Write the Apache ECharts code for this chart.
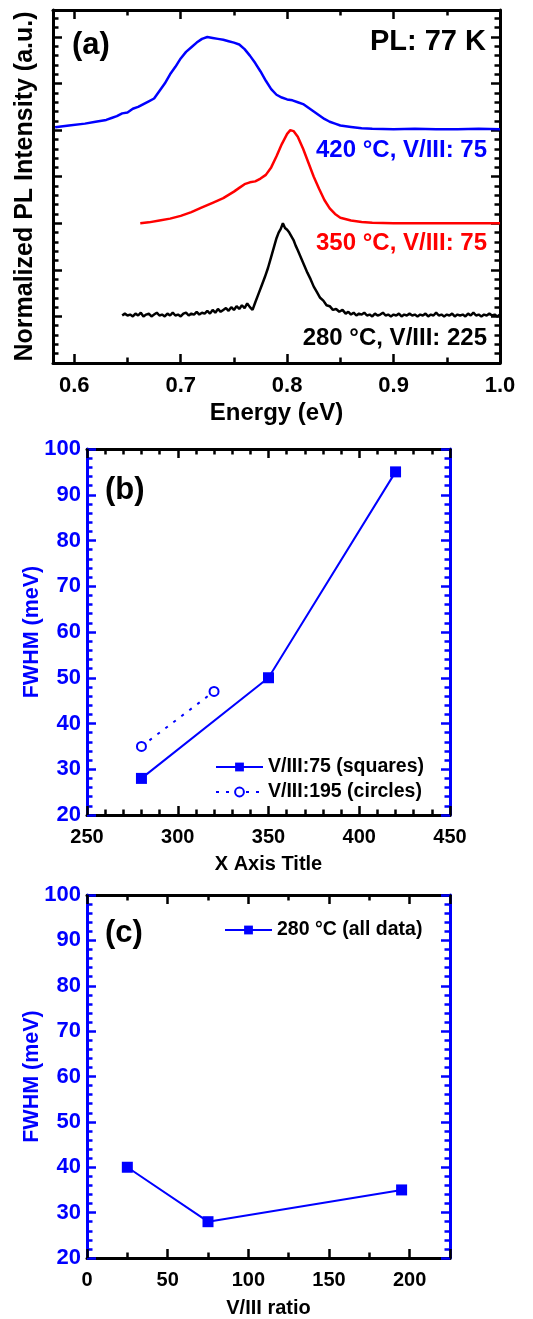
<!DOCTYPE html>
<html><head><meta charset="utf-8">
<script src="https://cdn.jsdelivr.net/npm/echarts@6/dist/echarts.min.js"></script>
<style>html,body{margin:0;padding:0;background:#fff}#c{width:533px;height:1319px}</style>
</head><body><div id="c"></div>
<script>
// ---------- Panel (a): normalized PL spectra ----------
const blueE = [0.582,0.595,0.610,0.620,0.630,0.635,0.640,0.645,0.650,0.655,0.660,0.665,0.670,0.675,0.680,0.685,0.690,0.695,0.700,0.705,0.710,0.715,0.720,0.725,0.730,0.735,0.740,0.745,0.750,0.755,0.760,0.765,0.770,0.775,0.780,0.785,0.790,0.795,0.800,0.805,0.810,0.815,0.820,0.825,0.830,0.835,0.840,0.845,0.850,0.860,0.870,0.880,0.900,0.920,0.940,0.960,0.980,1.000];
const blueI = [0.03,0.05,0.07,0.09,0.11,0.13,0.15,0.18,0.19,0.23,0.25,0.28,0.31,0.34,0.42,0.50,0.60,0.68,0.77,0.84,0.89,0.94,0.98,1.00,0.99,0.98,0.97,0.955,0.94,0.92,0.87,0.80,0.72,0.63,0.53,0.44,0.38,0.35,0.33,0.32,0.30,0.28,0.24,0.20,0.16,0.12,0.09,0.07,0.05,0.035,0.02,0.015,0.01,0.015,0.01,0.01,0.015,0.01];
const redE = [0.662,0.670,0.680,0.690,0.700,0.710,0.720,0.730,0.740,0.750,0.755,0.760,0.765,0.770,0.775,0.780,0.785,0.790,0.795,0.800,0.803,0.806,0.810,0.815,0.820,0.825,0.830,0.835,0.840,0.845,0.850,0.860,0.870,0.880,0.900,0.950,1.000];
const redI = [0.00,0.01,0.03,0.05,0.08,0.12,0.17,0.22,0.27,0.34,0.38,0.42,0.44,0.45,0.48,0.52,0.60,0.72,0.85,0.96,1.00,0.99,0.93,0.80,0.65,0.50,0.37,0.25,0.16,0.10,0.06,0.03,0.015,0.005,0.0,0.0,0.0];
const blackE = [0.6450,0.6475,0.6500,0.6525,0.6550,0.6575,0.6600,0.6625,0.6650,0.6675,0.6700,0.6725,0.6750,0.6775,0.6800,0.6825,0.6850,0.6875,0.6900,0.6925,0.6950,0.6975,0.7000,0.7025,0.7050,0.7075,0.7100,0.7125,0.7150,0.7175,0.7200,0.7225,0.7250,0.7275,0.7300,0.7325,0.7350,0.7375,0.7400,0.7425,0.7450,0.7475,0.7500,0.7525,0.7550,0.7575,0.7600,0.7625,0.7650,0.7675,0.7700,
  0.773,0.776,0.779,0.782,0.785,0.788,0.790,0.792,0.794,0.796,0.798,0.800,0.802,0.804,0.806,0.808,0.810,0.813,0.816,0.819,0.822,0.825,0.828,0.831,0.834,0.837,0.840,0.843,0.846,0.849,0.852,0.855,
  0.8575,0.8600,0.8625,0.8650,0.8675,0.8700,0.8725,0.8750,0.8775,0.8800,0.8825,0.8850,0.8875,0.8900,0.8925,0.8950,0.8975,0.9000,0.9025,0.9050,0.9075,0.9100,0.9125,0.9150,0.9175,0.9200,0.9225,0.9250,0.9275,0.9300,0.9325,0.9350,0.9375,0.9400,0.9425,0.9450,0.9475,0.9500,0.9525,0.9550,0.9575,0.9600,0.9625,0.9650,0.9675,0.9700,0.9725,0.9750,0.9775,0.9800,0.9825,0.9850,0.9875,0.9900,0.9925,0.9950,0.9975,1.0000];
const blackI = [0.01,0.03,0.01,0.02,0.00,0.03,0.01,0.04,0.00,0.02,0.03,0.00,0.02,0.04,0.01,0.02,0.00,0.03,0.01,0.04,0.01,0.02,0.00,0.03,0.04,0.01,0.03,0.02,0.05,0.02,0.04,0.03,0.06,0.03,0.07,0.04,0.08,0.05,0.07,0.09,0.06,0.10,0.07,0.11,0.08,0.12,0.09,0.14,0.10,0.07,0.15,
  0.24,0.33,0.42,0.52,0.64,0.76,0.84,0.90,0.94,1.00,0.95,0.93,0.90,0.86,0.82,0.76,0.71,0.63,0.55,0.47,0.40,0.32,0.26,0.20,0.17,0.12,0.11,0.07,0.08,0.05,0.07,0.03,
  0.05,0.02,0.04,0.01,0.03,0.02,0.04,0.01,0.02,0.00,0.03,0.01,0.02,0.04,0.01,0.02,0.00,0.02,0.01,0.03,0.00,0.02,0.01,0.03,0.01,0.02,0.00,0.02,0.01,0.03,0.00,0.02,0.01,0.04,0.01,0.02,0.00,0.02,0.01,0.03,0.00,0.02,0.01,0.02,0.00,0.03,0.01,0.04,0.01,0.02,0.00,0.02,0.01,0.03,0.01,0.02,0.00,0.02];
const specOffsets = [5, 3, 1];      // blue, red, black vertical offsets
const specScale = 2;                 // normalized peak height in axis units
const specLabels = ['420 \u00B0C, V/III: 75', '350 \u00B0C, V/III: 75', '280 \u00B0C, V/III: 225'];

// ---------- Panel (b): FWHM vs temperature ----------
const tempSquares = [280, 350, 420];
const fwhmSquares = [28, 50, 95];
const tempCircles = [280, 320];
const fwhmCircles = [35, 47];

// ---------- Panel (c): FWHM vs V/III ratio ----------
const ratioC = [25, 75, 195];
const fwhmC = [40, 28, 35];

const BLUE = '#0000FF', RED = '#FF0000', BLACK = '#000000';
const FONT = "'Liberation Sans', Arial, sans-serif";
const MAJ = 9, MIN = 5.5, TW = 2.5;

function zip(xs, ys, off, sc) { return xs.map((x, i) => [x, off + sc * ys[i]]); }
function zip2(xs, ys) { return xs.map((x, i) => [x, ys[i]]); }
function minor(n, color) { return { show: true, splitNumber: n, length: MIN, lineStyle: { color: color, width: TW } }; }

function frameAxis(grid, pos, color, o) {
  return Object.assign({
    type: 'value', gridIndex: grid, position: pos,
    axisLine: { show: true, onZero: false, lineStyle: { color: color, width: 3 } },
    axisTick: { show: true, inside: true, length: MAJ, lineStyle: { color: color, width: TW } },
    axisLabel: { show: false },
    splitLine: { show: false },
    nameMoveOverlap: false
  }, o);
}
const tickFont = { fontFamily: FONT, fontWeight: 'bold', fontSize: 22 };
const tickFontS = { fontFamily: FONT, fontWeight: 'bold', fontSize: 20 };
function nameFont(size, color) { return { fontFamily: FONT, fontWeight: 'bold', fontSize: size, color: color }; }

const aX = { min: 0.58, max: 1.0, minInterval: 0.1, maxInterval: 0.1, minorTick: minor(2, BLACK) };
const aY = { min: 0, max: 7.58, interval: 1, minorTick: minor(5, BLACK) };
const bX = { min: 250, max: 450, interval: 50, minorTick: minor(5, BLACK) };
const bcY = { min: 20, max: 100, interval: 10, minorTick: minor(5, BLUE) };
const cX = { min: 0, max: 225, interval: 50, minorTick: minor(2, BLACK) };

const xAxes = [
  frameAxis(0, 'bottom', BLACK, Object.assign({}, aX, {
    axisLabel: Object.assign({ show: true, color: BLACK, margin: 12, showMinLabel: false, formatter: v => v.toFixed(1) }, tickFont),
    name: 'Energy (eV)', nameLocation: 'middle', nameGap: 38, nameTextStyle: nameFont(24, BLACK)
  })),
  frameAxis(0, 'top', BLACK, aX),
  frameAxis(1, 'bottom', BLACK, Object.assign({}, bX, {
    axisLabel: Object.assign({ show: true, color: BLACK, margin: 12 }, tickFontS),
    name: 'X Axis Title', nameLocation: 'middle', nameGap: 39, nameTextStyle: nameFont(20, BLACK)
  })),
  frameAxis(1, 'top', BLACK, bX),
  frameAxis(2, 'bottom', BLACK, Object.assign({}, cX, {
    axisLabel: Object.assign({ show: true, color: BLACK, margin: 12, showMaxLabel: false }, tickFontS),
    name: 'V/III ratio', nameLocation: 'middle', nameGap: 40, nameTextStyle: nameFont(20, BLACK)
  })),
  frameAxis(2, 'top', BLACK, cX)
];
const yAxes = [
  frameAxis(0, 'left', BLACK, Object.assign({}, aY, {
    name: 'Normalized PL Intensity (a.u.)', nameLocation: 'middle', nameGap: 15,
    nameTextStyle: nameFont(25, BLACK)
  })),
  frameAxis(0, 'right', BLACK, aY),
  frameAxis(1, 'left', BLUE, Object.assign({}, bcY, {
    axisLabel: Object.assign({ show: true, color: BLUE, margin: 6 }, tickFont),
    name: 'FWHM (meV)', nameLocation: 'middle', nameGap: 44, nameTextStyle: nameFont(21.5, BLUE)
  })),
  frameAxis(1, 'right', BLUE, bcY),
  frameAxis(2, 'left', BLUE, Object.assign({}, bcY, {
    axisLabel: Object.assign({ show: true, color: BLUE, margin: 6 }, tickFont),
    name: 'FWHM (meV)', nameLocation: 'middle', nameGap: 44, nameTextStyle: nameFont(21.5, BLUE)
  })),
  frameAxis(2, 'right', BLUE, bcY)
];

function specSeries(name, xs, ys, off, color) {
  return { name: name, type: 'line', xAxisIndex: 0, yAxisIndex: 0, data: zip(xs, ys, off, specScale),
    showSymbol: false, symbol: 'none', lineStyle: { color: color, width: 2.5 }, itemStyle: { color: color }, z: 3 };
}

const option = {
  animation: false,
  backgroundColor: '#ffffff',
  grid: [
    { left: 53, top: 10, width: 447, height: 353 },
    { left: 87, top: 449, width: 363, height: 366 },
    { left: 87, top: 895, width: 363, height: 366 }
  ],
  xAxis: xAxes,
  yAxis: yAxes,
  legend: [
    { data: ['V/III:75 (squares)', 'V/III:195 (circles)'], orient: 'vertical', left: 210, top: 752,
      itemWidth: 47, itemHeight: 11, itemGap: 5, selectedMode: false,
      textStyle: { fontFamily: FONT, fontWeight: 'bold', fontSize: 19.5, color: BLACK } },
    { data: ['280 \u00B0C (all data)'], orient: 'vertical', left: 219, top: 915,
      itemWidth: 47, itemHeight: 11, selectedMode: false,
      textStyle: { fontFamily: FONT, fontWeight: 'bold', fontSize: 19.5, color: BLACK } }
  ],
  series: [
    specSeries(specLabels[0], blueE, blueI, specOffsets[0], BLUE),
    specSeries(specLabels[1], redE, redI, specOffsets[1], RED),
    specSeries(specLabels[2], blackE, blackI, specOffsets[2], BLACK),
    { name: 'V/III:75 (squares)', type: 'line', xAxisIndex: 2, yAxisIndex: 2, data: zip2(tempSquares, fwhmSquares),
      symbol: 'rect', symbolSize: 11, lineStyle: { color: BLUE, width: 2 }, itemStyle: { color: BLUE } },
    { name: 'V/III:195 (circles)', type: 'line', xAxisIndex: 2, yAxisIndex: 2, data: zip2(tempCircles, fwhmCircles),
      symbol: 'emptyCircle', symbolSize: 9, lineStyle: { color: BLUE, width: 2, type: [3, 7] },
      itemStyle: { color: BLUE, borderColor: BLUE, borderWidth: 2 } },
    { name: '280 \u00B0C (all data)', type: 'line', xAxisIndex: 4, yAxisIndex: 4, data: zip2(ratioC, fwhmC),
      symbol: 'rect', symbolSize: 11, lineStyle: { color: BLUE, width: 2 }, itemStyle: { color: BLUE } }
  ],
  graphic: [
    { type: 'text', x: 72, y: 45, style: { text: '(a)', font: 'bold 31px ' + FONT, fill: BLACK, textAlign: 'left', textVerticalAlign: 'middle', align: 'left', verticalAlign: 'middle' } },
    { type: 'text', x: 486, y: 42, style: { text: 'PL: 77 K', font: 'bold 29px ' + FONT, fill: BLACK, textAlign: 'right', textVerticalAlign: 'middle', align: 'right', verticalAlign: 'middle' } },
    { type: 'text', x: 487, y: 150, style: { text: specLabels[0], font: 'bold 24px ' + FONT, fill: BLUE, textAlign: 'right', textVerticalAlign: 'middle', align: 'right', verticalAlign: 'middle' } },
    { type: 'text', x: 487, y: 243, style: { text: specLabels[1], font: 'bold 24px ' + FONT, fill: RED, textAlign: 'right', textVerticalAlign: 'middle', align: 'right', verticalAlign: 'middle' } },
    { type: 'text', x: 487, y: 338, style: { text: specLabels[2], font: 'bold 24px ' + FONT, fill: BLACK, textAlign: 'right', textVerticalAlign: 'middle', align: 'right', verticalAlign: 'middle' } },
    { type: 'text', x: 105, y: 490, style: { text: '(b)', font: 'bold 31px ' + FONT, fill: BLACK, textAlign: 'left', textVerticalAlign: 'middle', align: 'left', verticalAlign: 'middle' } },
    { type: 'text', x: 105, y: 933, style: { text: '(c)', font: 'bold 31px ' + FONT, fill: BLACK, textAlign: 'left', textVerticalAlign: 'middle', align: 'left', verticalAlign: 'middle' } }
  ]
};
const chart = echarts.init(document.getElementById('c'), null, { renderer: 'canvas' });
chart.setOption(option);
</script></body></html>
